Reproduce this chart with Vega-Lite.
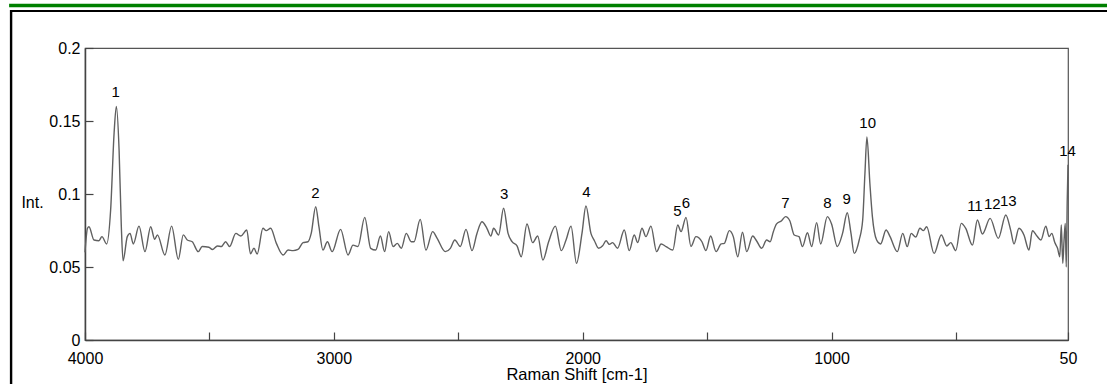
{
  "$schema": "https://vega.github.io/schema/vega-lite/v6.json",
  "width": 983,
  "height": 292,
  "autosize": {"type": "none"},
  "padding": {"left": 85, "top": 48, "right": 39, "bottom": 44},
  "background": "white",
  "config": {
    "view": {"stroke": "#555", "strokeWidth": 1.2},
    "font": "Liberation Sans"
  },
  "datasets": {
    "spectrum": [
      {"shift": 4000, "intensity": 0.060}, {"shift": 3990, "intensity": 0.0765}, {"shift": 3984, "intensity": 0.0776},
      {"shift": 3964, "intensity": 0.0685}, {"shift": 3944, "intensity": 0.068}, {"shift": 3932, "intensity": 0.0708},
      {"shift": 3913, "intensity": 0.0658}, {"shift": 3897, "intensity": 0.089}, {"shift": 3883, "intensity": 0.142},
      {"shift": 3874, "intensity": 0.160}, {"shift": 3863, "intensity": 0.130}, {"shift": 3854, "intensity": 0.0776},
      {"shift": 3847, "intensity": 0.0543}, {"shift": 3830, "intensity": 0.0708}, {"shift": 3819, "intensity": 0.073},
      {"shift": 3806, "intensity": 0.0658}, {"shift": 3783, "intensity": 0.078}, {"shift": 3759, "intensity": 0.0605},
      {"shift": 3736, "intensity": 0.0776}, {"shift": 3720, "intensity": 0.069}, {"shift": 3709, "intensity": 0.072},
      {"shift": 3679, "intensity": 0.0582}, {"shift": 3652, "intensity": 0.078}, {"shift": 3625, "intensity": 0.0553},
      {"shift": 3605, "intensity": 0.072}, {"shift": 3589, "intensity": 0.0685}, {"shift": 3569, "intensity": 0.0673},
      {"shift": 3545, "intensity": 0.0605}, {"shift": 3529, "intensity": 0.064}, {"shift": 3502, "intensity": 0.0635},
      {"shift": 3488, "intensity": 0.062}, {"shift": 3468, "intensity": 0.0644}, {"shift": 3452, "intensity": 0.064},
      {"shift": 3435, "intensity": 0.0673}, {"shift": 3419, "intensity": 0.064}, {"shift": 3394, "intensity": 0.073},
      {"shift": 3374, "intensity": 0.0712}, {"shift": 3350, "intensity": 0.0753}, {"shift": 3335, "intensity": 0.059},
      {"shift": 3321, "intensity": 0.0628}, {"shift": 3308, "intensity": 0.0589}, {"shift": 3285, "intensity": 0.0765},
      {"shift": 3272, "intensity": 0.0749}, {"shift": 3254, "intensity": 0.0765}, {"shift": 3231, "intensity": 0.0662},
      {"shift": 3204, "intensity": 0.0582}, {"shift": 3184, "intensity": 0.0616}, {"shift": 3164, "intensity": 0.0612},
      {"shift": 3144, "intensity": 0.062}, {"shift": 3124, "intensity": 0.0667}, {"shift": 3104, "intensity": 0.0673},
      {"shift": 3091, "intensity": 0.073}, {"shift": 3073, "intensity": 0.0913}, {"shift": 3060, "intensity": 0.0776},
      {"shift": 3044, "intensity": 0.0616}, {"shift": 3026, "intensity": 0.0673}, {"shift": 3007, "intensity": 0.0605},
      {"shift": 2973, "intensity": 0.0758}, {"shift": 2943, "intensity": 0.0582}, {"shift": 2923, "intensity": 0.065},
      {"shift": 2903, "intensity": 0.064}, {"shift": 2876, "intensity": 0.084}, {"shift": 2852, "intensity": 0.0628},
      {"shift": 2832, "intensity": 0.0616}, {"shift": 2813, "intensity": 0.0712}, {"shift": 2796, "intensity": 0.0605},
      {"shift": 2780, "intensity": 0.0742}, {"shift": 2762, "intensity": 0.064}, {"shift": 2745, "intensity": 0.0662},
      {"shift": 2729, "intensity": 0.0628}, {"shift": 2709, "intensity": 0.073}, {"shift": 2689, "intensity": 0.0673},
      {"shift": 2678, "intensity": 0.0673}, {"shift": 2653, "intensity": 0.0826}, {"shift": 2630, "intensity": 0.0616},
      {"shift": 2603, "intensity": 0.0742}, {"shift": 2586, "intensity": 0.070}, {"shift": 2552, "intensity": 0.0605},
      {"shift": 2532, "intensity": 0.0628}, {"shift": 2514, "intensity": 0.0685}, {"shift": 2492, "intensity": 0.064},
      {"shift": 2469, "intensity": 0.0758}, {"shift": 2445, "intensity": 0.0612}, {"shift": 2425, "intensity": 0.073},
      {"shift": 2405, "intensity": 0.081}, {"shift": 2385, "intensity": 0.0765}, {"shift": 2369, "intensity": 0.0712},
      {"shift": 2358, "intensity": 0.0765}, {"shift": 2338, "intensity": 0.0719}, {"shift": 2318, "intensity": 0.0902},
      {"shift": 2300, "intensity": 0.073}, {"shift": 2284, "intensity": 0.0673}, {"shift": 2264, "intensity": 0.0644},
      {"shift": 2247, "intensity": 0.057}, {"shift": 2224, "intensity": 0.0795}, {"shift": 2201, "intensity": 0.0667},
      {"shift": 2181, "intensity": 0.0712}, {"shift": 2160, "intensity": 0.0548}, {"shift": 2137, "intensity": 0.0673},
      {"shift": 2110, "intensity": 0.078}, {"shift": 2086, "intensity": 0.0612}, {"shift": 2067, "intensity": 0.0685},
      {"shift": 2047, "intensity": 0.078}, {"shift": 2025, "intensity": 0.0525}, {"shift": 2003, "intensity": 0.073},
      {"shift": 1987, "intensity": 0.0918}, {"shift": 1967, "intensity": 0.073}, {"shift": 1953, "intensity": 0.068},
      {"shift": 1936, "intensity": 0.0628}, {"shift": 1920, "intensity": 0.0645}, {"shift": 1906, "intensity": 0.068},
      {"shift": 1893, "intensity": 0.0655}, {"shift": 1880, "intensity": 0.0667}, {"shift": 1860, "intensity": 0.0628},
      {"shift": 1833, "intensity": 0.0753}, {"shift": 1813, "intensity": 0.0612}, {"shift": 1793, "intensity": 0.0719},
      {"shift": 1779, "intensity": 0.0667}, {"shift": 1762, "intensity": 0.0765}, {"shift": 1746, "intensity": 0.0708},
      {"shift": 1726, "intensity": 0.078}, {"shift": 1703, "intensity": 0.0605}, {"shift": 1685, "intensity": 0.0658},
      {"shift": 1665, "intensity": 0.064}, {"shift": 1638, "intensity": 0.0616}, {"shift": 1618, "intensity": 0.0788},
      {"shift": 1605, "intensity": 0.0742}, {"shift": 1585, "intensity": 0.084}, {"shift": 1565, "intensity": 0.064},
      {"shift": 1545, "intensity": 0.0708}, {"shift": 1521, "intensity": 0.0673}, {"shift": 1505, "intensity": 0.0612},
      {"shift": 1486, "intensity": 0.0712}, {"shift": 1464, "intensity": 0.0605}, {"shift": 1444, "intensity": 0.0658},
      {"shift": 1431, "intensity": 0.0662}, {"shift": 1411, "intensity": 0.0749}, {"shift": 1395, "intensity": 0.0708},
      {"shift": 1377, "intensity": 0.057}, {"shift": 1358, "intensity": 0.0738}, {"shift": 1341, "intensity": 0.0605},
      {"shift": 1317, "intensity": 0.0712}, {"shift": 1301, "intensity": 0.0678}, {"shift": 1281, "intensity": 0.0628},
      {"shift": 1261, "intensity": 0.0685}, {"shift": 1247, "intensity": 0.0673}, {"shift": 1234, "intensity": 0.0742},
      {"shift": 1221, "intensity": 0.0795}, {"shift": 1201, "intensity": 0.0817}, {"shift": 1185, "intensity": 0.0845},
      {"shift": 1168, "intensity": 0.0817}, {"shift": 1150, "intensity": 0.0719}, {"shift": 1131, "intensity": 0.0708},
      {"shift": 1117, "intensity": 0.064}, {"shift": 1097, "intensity": 0.0735}, {"shift": 1080, "intensity": 0.064},
      {"shift": 1060, "intensity": 0.0804}, {"shift": 1044, "intensity": 0.0658}, {"shift": 1017, "intensity": 0.0845},
      {"shift": 1000, "intensity": 0.0795}, {"shift": 977, "intensity": 0.064}, {"shift": 956, "intensity": 0.073},
      {"shift": 937, "intensity": 0.0872}, {"shift": 922, "intensity": 0.073}, {"shift": 909, "intensity": 0.0593},
      {"shift": 889, "intensity": 0.0685}, {"shift": 875, "intensity": 0.0822}, {"shift": 866, "intensity": 0.114},
      {"shift": 858, "intensity": 0.139}, {"shift": 846, "intensity": 0.107}, {"shift": 836, "intensity": 0.0845},
      {"shift": 819, "intensity": 0.0685}, {"shift": 803, "intensity": 0.0658}, {"shift": 781, "intensity": 0.0753},
      {"shift": 765, "intensity": 0.0708}, {"shift": 736, "intensity": 0.0605}, {"shift": 714, "intensity": 0.073},
      {"shift": 696, "intensity": 0.064}, {"shift": 680, "intensity": 0.073}, {"shift": 662, "intensity": 0.0705},
      {"shift": 645, "intensity": 0.0765}, {"shift": 631, "intensity": 0.0749}, {"shift": 618, "intensity": 0.0776},
      {"shift": 588, "intensity": 0.0593}, {"shift": 559, "intensity": 0.0719}, {"shift": 537, "intensity": 0.0644},
      {"shift": 521, "intensity": 0.0667}, {"shift": 501, "intensity": 0.0612}, {"shift": 479, "intensity": 0.0799},
      {"shift": 461, "intensity": 0.0765}, {"shift": 434, "intensity": 0.065}, {"shift": 414, "intensity": 0.0822},
      {"shift": 394, "intensity": 0.0726}, {"shift": 363, "intensity": 0.0833}, {"shift": 330, "intensity": 0.0696},
      {"shift": 300, "intensity": 0.0856}, {"shift": 280, "intensity": 0.0749}, {"shift": 267, "intensity": 0.0658},
      {"shift": 247, "intensity": 0.0765}, {"shift": 227, "intensity": 0.0719}, {"shift": 207, "intensity": 0.0616},
      {"shift": 193, "intensity": 0.0749}, {"shift": 175, "intensity": 0.0712}, {"shift": 159, "intensity": 0.0685},
      {"shift": 139, "intensity": 0.078}, {"shift": 126, "intensity": 0.0708}, {"shift": 115, "intensity": 0.073},
      {"shift": 103, "intensity": 0.0667}, {"shift": 92, "intensity": 0.0628}, {"shift": 83, "intensity": 0.057},
      {"shift": 77, "intensity": 0.0788}, {"shift": 71, "intensity": 0.0525}, {"shift": 66, "intensity": 0.068},
      {"shift": 61, "intensity": 0.0799}, {"shift": 57, "intensity": 0.050}, {"shift": 53, "intensity": 0.096},
      {"shift": 50, "intensity": 0.120}
    ],
    "peaks": [
      {"label": "1", "shift": 3877, "intensity": 0.160},
      {"label": "2", "shift": 3074, "intensity": 0.0913},
      {"label": "3", "shift": 2316, "intensity": 0.0902},
      {"label": "4", "shift": 1985, "intensity": 0.0918},
      {"label": "5", "shift": 1619, "intensity": 0.0788},
      {"label": "6", "shift": 1585, "intensity": 0.084},
      {"label": "7", "shift": 1185, "intensity": 0.0845},
      {"label": "8", "shift": 1017, "intensity": 0.0845},
      {"label": "9", "shift": 939, "intensity": 0.0872},
      {"label": "10", "shift": 855, "intensity": 0.139},
      {"label": "11", "shift": 424, "intensity": 0.0822},
      {"label": "12", "shift": 354, "intensity": 0.0833},
      {"label": "13", "shift": 290, "intensity": 0.0856},
      {"label": "14", "shift": 52, "intensity": 0.120}
    ]
  },
  "layer": [
    {
      "data": {"name": "spectrum"},
      "mark": {"type": "line", "interpolate": "monotone", "color": "#606060", "strokeWidth": 1.4},
      "encoding": {
        "x": {
          "field": "shift", "type": "quantitative",
          "scale": {"domain": [4000, 50], "nice": false, "zero": false},
          "axis": {
            "values": [4000, 3500, 3000, 2500, 2000, 1500, 1000, 500, 50],
            "labelExpr": "(datum.value % 1000 == 0 || datum.value == 50) ? format(datum.value, 'd') : ''",
            "tickSize": -8, "tickColor": "#444", "tickWidth": 1.2,
            "domainColor": "#444", "domainWidth": 1.5,
            "labelBaseline": "alphabetic", "labelPadding": 31,
            "labelFontSize": 16, "labelColor": "#000", "labelFont": "Liberation Sans",
            "labelFlush": false, "labelOverlap": false, "grid": false,
            "title": "Raman Shift [cm-1]", "titleFontSize": 16.5, "titleFontWeight": "normal",
            "titleColor": "#000", "titleFont": "Liberation Sans",
            "titleBaseline": "alphabetic", "titleY": 39.5
          }
        },
        "y": {
          "field": "intensity", "type": "quantitative",
          "scale": {"domain": [0, 0.2], "nice": false, "zero": false},
          "axis": {
            "values": [0, 0.025, 0.05, 0.075, 0.1, 0.125, 0.15, 0.175, 0.2],
            "labelExpr": "round(datum.value * 1000) % 50 == 0 ? format(datum.value, '~g') : ''",
            "tickSize": -8, "tickColor": "#444", "tickWidth": 1.2,
            "domainColor": "#444", "domainWidth": 1.5,
            "labelPadding": 13, "labelFontSize": 16, "labelColor": "#000", "labelFont": "Liberation Sans",
            "labelFlush": false, "labelOverlap": false, "grid": false,
            "title": "Int.", "titleAngle": 0, "titleAlign": "center", "titleBaseline": "middle",
            "titleX": -53, "titleY": 154, "titleFontSize": 16, "titleFontWeight": "normal",
            "titleColor": "#000", "titleFont": "Liberation Sans"
          }
        }
      }
    },
    {
      "data": {"name": "peaks"},
      "mark": {"type": "text", "dy": -14, "fontSize": 15, "color": "#000", "font": "Liberation Sans", "baseline": "middle"},
      "encoding": {
        "x": {"field": "shift", "type": "quantitative", "scale": {"domain": [4000, 50], "nice": false, "zero": false}},
        "y": {"field": "intensity", "type": "quantitative", "scale": {"domain": [0, 0.2], "nice": false, "zero": false}},
        "text": {"field": "label"}
      }
    },
    {
      "data": {"values": [{}]},
      "mark": {"type": "rule", "color": "#008000", "strokeWidth": 3.3},
      "encoding": {
        "x": {"datum": 4305, "type": "quantitative", "scale": {"domain": [4000, 50], "nice": false, "zero": false}},
        "x2": {"datum": -150},
        "y": {"datum": 0.2291, "type": "quantitative", "scale": {"domain": [0, 0.2], "nice": false, "zero": false}}
      }
    },
    {
      "data": {"values": [{}]},
      "mark": {"type": "rule", "color": "#000", "strokeWidth": 2},
      "encoding": {
        "x": {"datum": 4301, "type": "quantitative", "scale": {"domain": [4000, 50], "nice": false, "zero": false}},
        "x2": {"datum": -150},
        "y": {"datum": 0.22534, "type": "quantitative", "scale": {"domain": [0, 0.2], "nice": false, "zero": false}}
      }
    },
    {
      "data": {"values": [{}]},
      "mark": {"type": "rule", "color": "#000", "strokeWidth": 2.4},
      "encoding": {
        "x": {"datum": 4297, "type": "quantitative", "scale": {"domain": [4000, 50], "nice": false, "zero": false}},
        "y": {"datum": 0.226, "type": "quantitative", "scale": {"domain": [0, 0.2], "nice": false, "zero": false}},
        "y2": {"datum": -0.05}
      }
    }
  ]
}
